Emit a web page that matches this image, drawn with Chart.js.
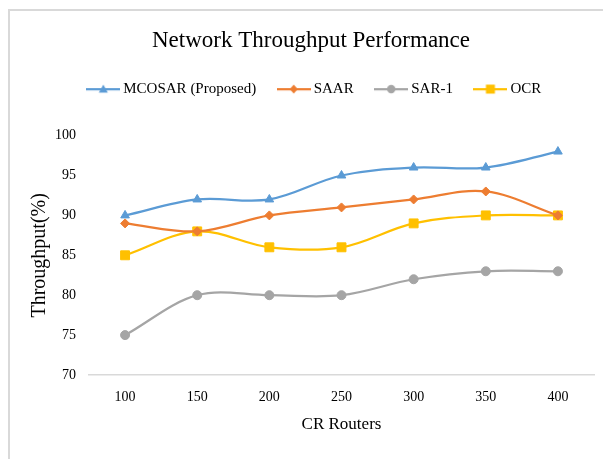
<!DOCTYPE html>
<html lang="en">
<head>
  <meta charset="UTF-8" />
  <title>Network Throughput Performance</title>
  <script src="https://cdn.jsdelivr.net/npm/chart.js"></script>
  <style>
    body {
      margin: 0;
      padding: 0;
      background: #fff;
      overflow: hidden;
    }
    #wrap {
      position: relative;
      width: 603px;
      height: 459px;
    }
    .frame {
      position: absolute;
      left: 8px;
      top: 9px;
      width: 640px;
      height: 500px;
      border: 2px solid #d9d9d9;
    }
    canvas {
      position: absolute;
      left: 0;
      top: 0;
    }
  </style>
</head>
<body>
  <div id="wrap">
    <div class="frame"></div>
    <canvas id="chart" width="603" height="459"></canvas>
  </div>

  <script>
    const routers = ['100', '150', '200', '250', '300', '350', '400'];
    const mcosar = [90, 92, 92, 95, 96, 96, 98];
    const saar = [89, 88, 90, 91, 92, 93, 90];
    const sar1 = [75, 80, 80, 80, 82, 83, 83];
    const ocr = [85, 88, 86, 86, 89, 90, 90];
    const yMin = 70, yMax = 100, yStep = 5;

    const serif = "'Liberation Serif', 'Times New Roman', serif";

    // legend swatch: short line with the marker in the middle (Excel style)
    function swatch(color, shape) {
      const c = document.createElement('canvas');
      c.width = 34; c.height = 14;
      const ctx = c.getContext('2d');
      ctx.strokeStyle = color;
      ctx.fillStyle = color;
      ctx.lineWidth = 2.25;
      ctx.beginPath();
      ctx.moveTo(0, 7); ctx.lineTo(34, 7);
      ctx.stroke();
      ctx.beginPath();
      if (shape === 'triangle') {
        ctx.moveTo(17, 2.5); ctx.lineTo(21.5, 10.5); ctx.lineTo(12.5, 10.5);
      } else if (shape === 'diamond') {
        ctx.moveTo(17, 2.5); ctx.lineTo(21, 7); ctx.lineTo(17, 11.5); ctx.lineTo(13, 7);
      } else if (shape === 'circle') {
        ctx.arc(17, 7, 4.2, 0, Math.PI * 2);
      } else {
        ctx.rect(12.5, 2.5, 9, 9);
      }
      ctx.closePath();
      ctx.fill();
      return c;
    }

    const swatches = [
      swatch('#5B9BD5', 'triangle'),
      swatch('#ED7D31', 'diamond'),
      swatch('#A5A5A5', 'circle'),
      swatch('#FFC000', 'square')
    ];

    function series(label, data, color, style, radius) {
      return {
        label: label,
        data: data,
        borderColor: color,
        backgroundColor: color,
        borderWidth: 2.25,
        pointStyle: style,
        pointRadius: radius,
        pointHoverRadius: radius,
        pointBorderWidth: 1,
        tension: 0.35
      };
    }

    // extra room under the legend, and nudge it a little to the right
    const legendSpace = {
      id: 'legendSpace',
      beforeLayout(chart) {
        if (chart.legend && !chart.legend._wrapped) {
          const fit = chart.legend.fit;
          chart.legend.fit = function () {
            fit.call(this);
            this.height = 79;
          };
          chart.legend._wrapped = true;
        }
      },
      afterLayout(chart) {
        chart.legend.left += 5;
        chart.legend.right += 5;
      }
    };

    new Chart(document.getElementById('chart'), {
      type: 'line',
      data: {
        labels: routers,
        datasets: [
          series('MCOSAR (Proposed)', mcosar, '#5B9BD5', 'triangle', 5),
          series('SAAR', saar, '#ED7D31', 'rectRot', 4.5),
          series('SAR-1', sar1, '#A5A5A5', 'circle', 4.5),
          series('OCR', ocr, '#FFC000', 'rect', 6.3)
        ]
      },
      options: {
        responsive: false,
        animation: false,
        layout: { padding: { left: 28, right: 9, top: 10, bottom: 0 } },
        plugins: {
          title: {
            display: true,
            text: 'Network Throughput Performance',
            color: '#000',
            font: { family: serif, size: 23, weight: 'normal' },
            padding: { top: 17, bottom: 2 }
          },
          legend: {
            display: true,
            position: 'top',
            labels: {
              usePointStyle: true,
              pointStyleWidth: 25,
              padding: 25,
              color: '#000',
              font: { family: serif, size: 15 },
              generateLabels(chart) {
                const items = Chart.defaults.plugins.legend.labels.generateLabels(chart);
                items.forEach(it => { it.pointStyle = swatches[it.datasetIndex]; });
                return items;
              }
            }
          },
          tooltip: { enabled: false }
        },
        scales: {
          x: {
            offset: true,
            grid: { display: false, drawTicks: false },
            border: { display: true, color: '#d9d9d9', width: 1.5 },
            ticks: {
              color: '#000',
              padding: 14,
              font: { family: serif, size: 14 }
            },
            title: {
              display: true,
              text: 'CR Routers',
              color: '#000',
              font: { family: serif, size: 17 },
              padding: 24
            },
            afterFit(scale) { scale.height = 84; }
          },
          y: {
            min: yMin,
            max: yMax,
            grid: { display: false, drawTicks: false },
            border: { display: false },
            ticks: {
              stepSize: yStep,
              color: '#000',
              padding: 13,
              font: { family: serif, size: 14 }
            },
            title: {
              display: true,
              text: 'Throughput(%)',
              color: '#000',
              font: { family: serif, size: 20 },
              padding: { top: 0, bottom: 0 }
            },
            afterFit(scale) { scale.width = 61; }
          }
        }
      },
      plugins: [legendSpace]
    });
  </script>
</body>
</html>
